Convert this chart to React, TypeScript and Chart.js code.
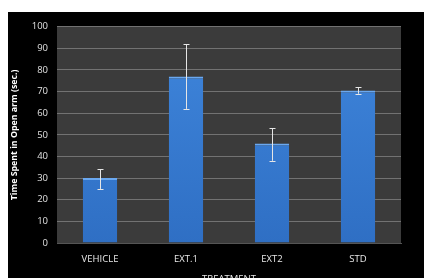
import React, { useEffect, useRef } from "react";
import { Chart, registerables } from "chart.js";

Chart.register(...registerables);

const categories = ["VEHICLE", "EXT.1", "EXT2", "STD"];
const means = [30, 77, 46, 70.5];
const errLow = [25, 62, 38, 69];
const errHigh = [34, 92, 53, 72];
const yTicks = [0, 10, 20, 30, 40, 50, 60, 70, 80, 90, 100];

const bgPlugin = {
  id: "plotBg",
  beforeDraw(chart: any) {
    const { ctx, chartArea } = chart;
    ctx.save();
    ctx.fillStyle = "#3b3b3b";
    ctx.fillRect(chartArea.left, chartArea.top, chartArea.right - chartArea.left, chartArea.bottom - chartArea.top);
    ctx.restore();
  },
};

const errPlugin = {
  id: "errBars",
  afterDatasetsDraw(chart: any) {
    const { ctx } = chart;
    const meta = chart.getDatasetMeta(0);
    const y = chart.scales.y;
    ctx.save();
    ctx.strokeStyle = "#e6e6e6";
    ctx.lineWidth = 1;
    meta.data.forEach((bar: any, i: number) => {
      const x = Math.round(bar.x) + 0.5;
      const yl = y.getPixelForValue(errLow[i]);
      const yh = y.getPixelForValue(errHigh[i]);
      ctx.beginPath();
      ctx.moveTo(x, yl);
      ctx.lineTo(x, yh);
      ctx.moveTo(x - 3, Math.round(yh) + 0.5);
      ctx.lineTo(x + 3, Math.round(yh) + 0.5);
      ctx.moveTo(x - 3, Math.round(yl) + 0.5);
      ctx.lineTo(x + 3, Math.round(yl) + 0.5);
      ctx.stroke();
    });
    ctx.restore();
  },
};

export default function App() {
  const ref = useRef<HTMLCanvasElement>(null);
  useEffect(() => {
    const canvas = ref.current!;
    const chart = new Chart(canvas, {
      type: "bar",
      data: {
        labels: categories,
        datasets: [
          {
            data: means,
            backgroundColor: (c: any) => {
              const { ctx, chartArea } = c.chart;
              if (!chartArea) return "#3c80d6";
              const g = ctx.createLinearGradient(0, chartArea.top, 0, chartArea.bottom);
              g.addColorStop(0, "#3f86dc");
              g.addColorStop(1, "#2f6fc4");
              return g;
            },
            borderColor: "#6aa8f0",
            borderWidth: { top: 2, left: 0, right: 0, bottom: 0 },
            borderSkipped: false,
            categoryPercentage: 1,
            barPercentage: 0.4,
          },
        ],
      },
      options: {
        animation: false,
        responsive: false,
        maintainAspectRatio: false,
        layout: { padding: { left: 0, right: 31, top: 4, bottom: 0 } },
        plugins: { legend: { display: false }, tooltip: { enabled: false } },
        scales: {
          x: {
            grid: { display: false, drawTicks: false },
            border: { display: true, color: "#555555" },
            ticks: {
              color: "#e8e8e8",
              padding: 11,
              font: { family: "Open Sans", size: 9.5 },
            },
            title: {
              display: true,
              text: "TREATMENT",
              color: "#e8e8e8",
              padding: { top: 4, bottom: 0 },
              font: { family: "Open Sans", size: 9.5 },
            },
            afterFit: (s: any) => {
              s.height = 42;
            },
          },
          y: {
            min: 0,
            max: 100,
            afterBuildTicks: (s: any) => {
              s.ticks = yTicks.map((v) => ({ value: v }));
            },
            grid: { color: "#727272", lineWidth: 1, drawTicks: false },
            border: { display: false },
            ticks: {
              color: "#e0e0e0",
              padding: 9,
              font: { family: "Open Sans", size: 9.5 },
            },
            title: {
              display: true,
              text: "Time Spent in Open arm (sec.)",
              color: "#ffffff",
              padding: { top: 1, bottom: 0 },
              font: { family: "Open Sans", size: 8.8, weight: "bold" },
            },
            afterFit: (s: any) => {
              s.width = 49;
            },
          },
        },
      },
      plugins: [bgPlugin, errPlugin],
    });
    return () => chart.destroy();
  }, []);
  return (
    <div style={{ marginTop: 4, width: 424, height: 266, background: "#000", overflow: "hidden" }}>
      <canvas ref={ref} width={424} height={273} style={{ display: "block" }} />
    </div>
  );
}
